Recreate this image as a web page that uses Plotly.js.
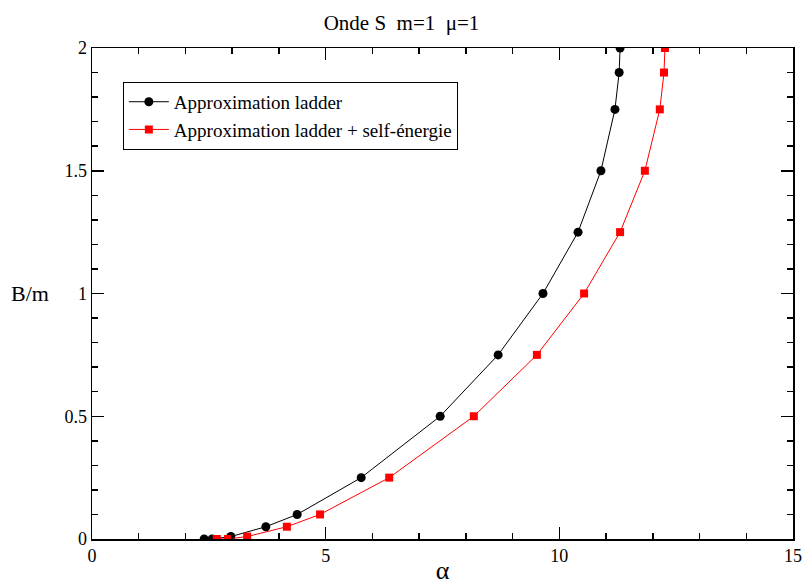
<!DOCTYPE html>
<html>
<head>
<meta charset="utf-8">
<script src="https://cdn.plot.ly/plotly-3.0.1.min.js"></script>
<style>html,body{margin:0;padding:0;background:#fff;}#chart{width:803px;height:585px;}</style>
</head>
<body>
<div id="chart"></div>
<script>
const ladderAlpha = [2.40, 2.57, 2.97, 3.72, 4.39, 5.76, 7.45, 8.69, 9.65, 10.40, 10.89, 11.19, 11.28, 11.30];
const ladderB     = [0, 0, 0.01, 0.05, 0.1, 0.25, 0.5, 0.75, 1.0, 1.25, 1.5, 1.75, 1.9, 2.0];
const selfAlpha   = [2.67, 2.91, 3.32, 4.17, 4.88, 6.36, 8.17, 9.52, 10.53, 11.30, 11.83, 12.15, 12.24, 12.26];
const selfB       = [0, 0, 0.01, 0.05, 0.1, 0.25, 0.5, 0.75, 1.0, 1.25, 1.5, 1.75, 1.9, 2.0];
const seriesNames = ["Approximation ladder", "Approximation ladder + self-énergie"];
const xTicks = [0, 5, 10, 15];
const yTicks = [0, 0.5, 1, 1.5, 2];

const font = "Liberation Serif, Times New Roman, serif";
const traces = [
  {x: ladderAlpha, y: ladderB, name: seriesNames[0], mode: "lines+markers",
   line: {color: "#000000", width: 1}, marker: {symbol: "circle", size: 9, color: "#000000"}},
  {x: selfAlpha, y: selfB, name: seriesNames[1], mode: "lines+markers",
   line: {color: "#ff0000", width: 1}, marker: {symbol: "square", size: 8, color: "#ff0000"}}
];
const axisCommon = {
  showgrid: false, zeroline: false, showline: true, linecolor: "#000", linewidth: 1.5,
  mirror: "ticks", ticks: "inside", ticklen: 12, tickwidth: 1.5, tickcolor: "#000",
  tickfont: {family: font, size: 18, color: "#000"}
};
const layout = {
  width: 803, height: 585,
  margin: {l: 92, r: 10, t: 48, b: 46},
  paper_bgcolor: "#fff", plot_bgcolor: "#fff",
  title: {text: "Onde S  m=1  μ=1", font: {family: font, size: 21, color: "#000"}, x: 0.5, xanchor: "center", y: 0.962, yanchor: "middle"},
  xaxis: Object.assign({}, axisCommon, {
    range: [0, 15], tickvals: xTicks, ticktext: xTicks.map(String),
    minor: {dtick: 1, ticks: "inside", ticklen: 6, tickwidth: 1.5, tickcolor: "#000", showgrid: false},
    title: {text: "α", font: {family: font, size: 26, color: "#000"}, standoff: 4}
  }),
  yaxis: Object.assign({}, axisCommon, {
    range: [0, 2], tickvals: yTicks, ticktext: yTicks.map(String),
    minor: {dtick: 0.1, ticks: "inside", ticklen: 6, tickwidth: 1.5, tickcolor: "#000", showgrid: false}
  }),
  showlegend: true,
  legend: {x: 0.044, y: 0.931, xanchor: "left", yanchor: "top", bgcolor: "#fff",
    bordercolor: "#000", borderwidth: 1, font: {family: font, size: 19, color: "#000"},
    tracegroupgap: 0, itemwidth: 40},
  annotations: [{text: "B/m", xref: "paper", yref: "paper", x: -0.088, y: 0.5, xanchor: "center", yanchor: "middle",
    showarrow: false, font: {family: font, size: 22, color: "#000"}}]
};
Plotly.newPlot("chart", traces, layout, {displayModeBar: false, staticPlot: true});
</script>
</body>
</html>
